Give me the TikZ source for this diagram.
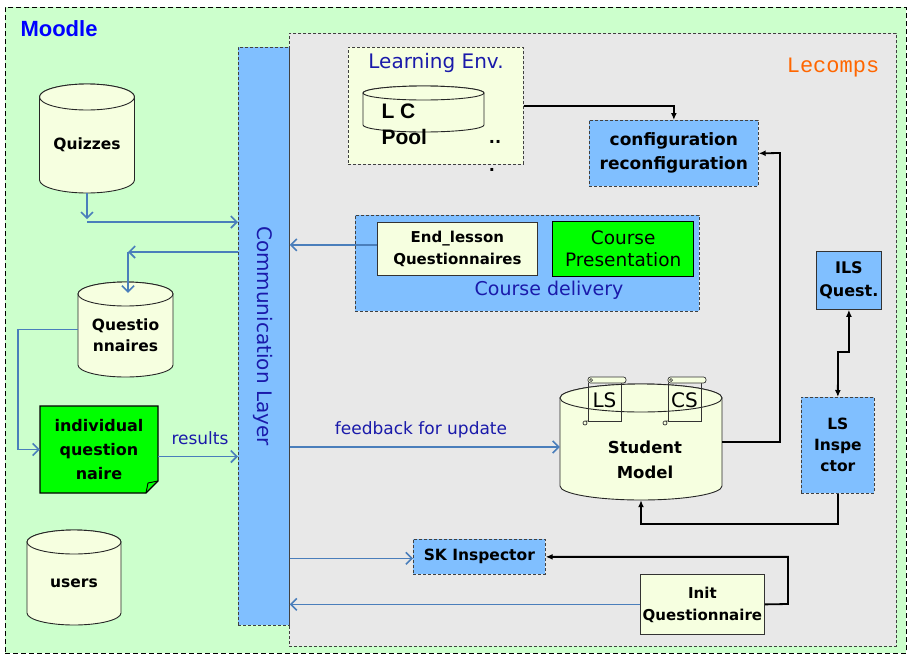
\documentclass[tikz,border=0pt]{standalone}
\usepackage{fontspec}
\setmainfont{DejaVu Sans}
\newfontfamily\arialf{Liberation Sans}
\newfontfamily\courf{Liberation Mono}
\usetikzlibrary{arrows.meta,calc}
\definecolor{moodlegreen}{RGB}{204,255,204}
\definecolor{lecgray}{RGB}{232,232,232}
\definecolor{boxblue}{RGB}{128,191,255}
\definecolor{paleyellow}{RGB}{246,255,224}
\definecolor{brightgreen}{RGB}{0,255,0}
\definecolor{connblue}{RGB}{74,126,187}
\definecolor{textblue}{RGB}{26,26,170}
\definecolor{lecorange}{RGB}{255,102,0}
\definecolor{titleblue}{RGB}{0,0,255}
% cylinder: name, cx, ytop, ybot, halfwidth, ry
\newcommand\mycyl[6]{%
  \pgfmathsetmacro\cxl{#2-#5}%
  \pgfmathsetmacro\cxr{#2+#5}%
  \pgfmathsetmacro\cyt{#3+#6}%
  \pgfmathsetmacro\cyb{#4-#6}%
  \pgfmathsetmacro\cw{2*#5}%
  \pgfmathsetmacro\ch{#4-#3}%
  \pgfmathsetmacro\cm{(#3+#4)/2}%
  \filldraw[cyl] (\cxl,\cyt) -- (\cxl,\cyb) arc[start angle=180,end angle=360,x radius=#5pt,y radius=#6pt] -- (\cxr,\cyt) arc[start angle=0,end angle=180,x radius=#5pt,y radius=#6pt] -- cycle;
  \draw[cyl] (#2,\cyt) ellipse[x radius=#5pt, y radius=#6pt];
  \node[inner sep=0pt, minimum width=\cw pt, minimum height=\ch pt] (#1) at (#2,\cm) {};
}
% scroll: x0, y0, text
\newcommand\myscroll[3]{%
  \begin{scope}[shift={(#1,#2)}, line width=0.7pt, draw=black!80]
    \draw (5,6) -- (5,44) -- (38,44) -- (38,6);
    \draw[rounded corners=2.5pt, fill=paleyellow] (5,0) rectangle (43,6);
    \draw (8,3) circle[radius=1.5pt];
    \draw (5,44) -- (2,44) arc[start angle=90, end angle=450, radius=2pt];
    \node[font=\fontsize{20}{22}\selectfont] at (21.5,23) {#3};
  \end{scope}
}
\begin{document}
\begin{tikzpicture}[x=1pt,y=-1pt,
  box/.style={draw=black!75, dash pattern=on 3pt off 2pt, line width=0.7pt, inner sep=0pt, anchor=north west},
  solidbox/.style={draw=black!80, line width=0.8pt, inner sep=0pt, anchor=north west},
  bt/.style={font=\fontsize{15.5}{21}\selectfont\bfseries, align=center},
  ct/.style={font=\fontsize{19}{24}\selectfont, text=textblue},
  conn/.style={draw=connblue, line width=1.6pt, -{Straight Barb[length=6pt,width=12pt]}},
  blk/.style={draw=black, line width=1.8pt, -{Latex[length=7pt,width=6pt]}},
  cyl/.style={draw=black!85, line width=0.9pt, fill=paleyellow},
]
\useasboundingbox (0,0) rectangle (908,656);
% containers
\node[box, draw=black, dash pattern=on 5pt off 3pt, fill=moodlegreen, minimum width=901pt, minimum height=646pt] (moodle) at (5,7) {};
\node[box, fill=lecgray, minimum width=607pt, minimum height=613pt] (lecomps) at (289,33) {};
\node[box, fill=boxblue, minimum width=51pt, minimum height=578pt] (comm) at (238,47) {};
\node[font=\arialf\bfseries\fontsize{22}{26}\selectfont, text=titleblue, anchor=west] (moodlet) at (17,29) {Moodle};
\node[font=\courf\fontsize{22}{26}\selectfont, text=lecorange] (lecompst) at (833,68) {Lecomps};
\node[ct, rotate=-90, font=\fontsize{20}{24}\selectfont] (commt) at (263,336) {Communication Layer};
% Moodle cylinders
\mycyl{quiz}{87}{84}{193}{47.5}{13}
\node[bt] (quizt) at (87,145) {Quizzes};
\mycyl{qn}{125.5}{282}{377}{47.5}{12}
\node[bt] (qnt) at (125.5,335.5) {Questio\\nnaires};
\mycyl{users}{74}{530}{625}{47}{12}
\node[bt] (userst) at (74,583) {users};
% individual questionnaire (note)
\filldraw[fill=brightgreen, draw=black, line width=1.2pt] (40,406) -- (158,406) -- (158,481) -- (146,493) -- (40,493) -- cycle;
\draw[line width=0.9pt] (146,493) -- (148,483) -- (158,481);
\node[bt, font=\fontsize{16}{24}\selectfont\bfseries, minimum width=118pt, minimum height=87pt, inner sep=0pt] (ind) at (99,449.5) {individual\\question\\naire};
% Learning environment
\node[box, fill=paleyellow, minimum width=175pt, minimum height=117pt] (learn) at (348,47) {};
\node[ct, font=\fontsize{20}{24}\selectfont] (learnt) at (436,63) {Learning Env.};
\mycyl{lc}{423.5}{86}{132}{60.5}{7}
\node[font=\arialf\bfseries\fontsize{21}{26}\selectfont, align=left, anchor=west] (lct) at (378,124) {L C\\Pool};
\node[font=\bfseries\fontsize{16}{20}\selectfont] (dots1) at (495,142) {..};
\node[font=\bfseries\fontsize{16}{20}\selectfont] (dots2) at (492,170) {.};
% configuration
\node[box, fill=boxblue, minimum width=169pt, minimum height=66pt, bt, font=\fontsize{17}{24}\selectfont\bfseries] (config) at (589,120) {configuration\\reconfiguration};
% course delivery
\node[box, fill=boxblue, minimum width=344pt, minimum height=96pt] (deliv) at (355,215) {};
\node[solidbox, fill=paleyellow, minimum width=160pt, minimum height=53pt, bt, font=\fontsize{15}{22}\selectfont\bfseries] (endl) at (377,222) {End\_lesson\\Questionnaires};
\node[solidbox, line width=1.4pt, draw=black, fill=brightgreen, minimum width=141pt, minimum height=55pt, align=center, font=\fontsize{18.5}{22}\selectfont] (pres) at (552,221) {Course\\Presentation};
\node[ct] (delivt) at (549,290) {Course delivery};
% ILS / LS inspector
\node[solidbox, fill=boxblue, minimum width=65pt, minimum height=58pt, bt, font=\fontsize{16}{23}\selectfont\bfseries] (ils) at (816,251) {ILS\\Quest.};
\node[box, fill=boxblue, minimum width=73pt, minimum height=96pt, bt] (lsi) at (801,397) {LS\\Inspe\\ctor};
% student model
\mycyl{sm}{641}{384}{500}{81}{14}
\myscroll{583}{377}{LS}
\myscroll{663}{377}{CS}
\node[bt, font=\fontsize{16.5}{25}\selectfont\bfseries] (smt) at (645,460) {Student\\Model};
% SK inspector and init questionnaire
\node[box, fill=boxblue, minimum width=132pt, minimum height=35pt, bt] (sk) at (413,539) {SK Inspector};
\node[solidbox, fill=paleyellow, minimum width=124pt, minimum height=60pt, bt, font=\fontsize{15}{22}\selectfont\bfseries] (init) at (640,574) {Init\\Questionnaire};
% ---- blue connectors
\coordinate (j1) at (87,222);
\draw[conn] (quiz.south) -- ++(0,26);
\draw[conn] (j1) -- (j1 -| comm.west);
\coordinate (j2) at (128,252);
\draw[conn] (j2 -| comm.west) -- (j2);
\draw[conn] (j2) -- ($(j2 |- qn.north)+(0,11)$);
\coordinate (j3) at (18,329.5);
\draw[conn] (qn.west) -- (j3) |- (ind.west);
\coordinate (r1) at ($(ind.east)+(0,7)$);
\draw[conn] (r1) -- (r1 -| comm.west);
\node[ct, font=\fontsize{17}{20}\selectfont] (rest) at (200,438) {results};
\coordinate (d1) at ($(endl.west)+(0,-4)$);
\draw[conn] (d1) -- (d1 -| comm.east);
\coordinate (f1) at ($(sm.west)+(0,5)$);
\draw[conn] (f1 -| comm.east) -- (f1);
\node[ct, font=\fontsize{17}{20}\selectfont] (fbt) at (421,430) {feedback for update};
\coordinate (q1) at ($(sk.west)+(0,1.5)$);
\draw[conn] (q1 -| comm.east) -- (q1);
\draw[conn] (init.west) -- (init.west -| comm.east);
% ---- black connectors
\draw[blk] (learn.east) -| (config.north);
\coordinate (c1) at (780,153);
\draw[blk] (sm.east) -| (c1) -- (config.east);
\coordinate (k1) at (849,352);
\coordinate (k2) at (838,352);
\draw[blk, {Latex[length=7pt,width=6pt]}-{Latex[length=7pt,width=6pt]}] (ils.south) -- (k1) -- (k2) -- (lsi.north);
\draw[blk] (lsi.south) |- ($(sm.south)+(0,24)$) -- (sm.south);
\coordinate (i1) at (788,604);
\draw[blk] (init.east) -- (i1) |- (sk.east);
\end{tikzpicture}
\end{document}
